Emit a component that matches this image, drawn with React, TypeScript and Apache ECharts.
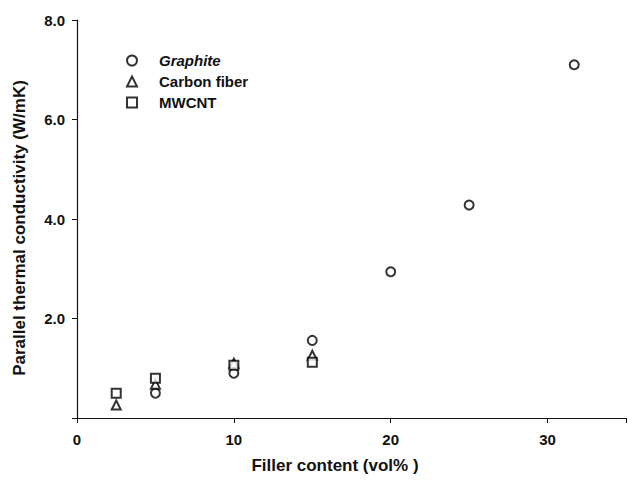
import React, { useEffect, useRef } from "react";
import * as echarts from "echarts";

const graphiteX = [5, 10, 15, 20, 25, 31.7];
const graphiteY = [0.5, 0.9, 1.56, 2.94, 4.28, 7.1];
const carbonX = [2.5, 5, 10, 15];
const carbonY = [0.26, 0.68, 1.1, 1.26];
const mwcntX = [2.5, 5, 10, 15];
const mwcntY = [0.5, 0.8, 1.06, 1.12];
const seriesNames = ["Graphite", "Carbon fiber", "MWCNT"];
const xTitle = "Filler content (vol% )";
const yTitle = "Parallel thermal conductivity (W/mK)";

const FONT = "'Liberation Sans', Arial, sans-serif";

function pairs(xs: number[], ys: number[]) {
  return xs.map((x, i) => [x, ys[i]]);
}

export default function App() {
  const ref = useRef<HTMLDivElement>(null);
  useEffect(() => {
    if (!ref.current) return;
    const chart = echarts.init(ref.current, null, { renderer: "svg" });
    const markerStyle = { color: "#000", borderColor: "#000", borderWidth: 1.3 };
    const labelStyle = { fontFamily: FONT, fontSize: 15, fontWeight: "bold", color: "#111" };
    chart.setOption({
      animation: false,
      backgroundColor: "#fff",
      textStyle: { fontFamily: FONT },
      grid: { left: 77, top: 20, right: 1, bottom: 65, containLabel: false },
      legend: {
        orient: "vertical",
        left: 121,
        top: 48,
        itemWidth: 10,
        itemHeight: 10,
        itemGap: 6,
        data: seriesNames,
        textStyle: {
          ...labelStyle,
          rich: {
            s: { width: 17 },
            i: { ...labelStyle, fontStyle: "italic", lineHeight: 15 },
            b: { ...labelStyle, lineHeight: 15 },
          },
        },
        formatter: (name: string) =>
          name === "Graphite" ? `{s|}{i|${name}}` : `{s|}{b|${name}}`,
      },
      graphic: [
        {
          type: "text",
          x: 335,
          y: 465,
          style: { text: xTitle, fontFamily: FONT, fontSize: 17, fontWeight: "bold", fill: "#111", align: "center", verticalAlign: "middle" },
        },
        {
          type: "text",
          x: 19,
          y: 228,
          rotation: Math.PI / 2,
          style: { text: yTitle, fontFamily: FONT, fontSize: 17, fontWeight: "bold", fill: "#111", align: "center", verticalAlign: "middle" },
        },
      ],
      xAxis: {
        type: "value",
        min: 0,
        max: 35,
        interval: 10,
        axisLine: { lineStyle: { color: "#111", width: 1.2 } },
        axisTick: { show: true, length: 5, lineStyle: { color: "#111" } },
        axisLabel: {
          ...labelStyle,
          margin: 14,
          formatter: (v: number) => (v <= 30 ? String(v) : ""),
        },
        splitLine: { show: false },
      },
      yAxis: {
        type: "value",
        min: 0,
        max: 8,
        interval: 2,
        axisLine: { show: true, lineStyle: { color: "#111", width: 1.2 } },
        axisTick: { show: true, length: 5, lineStyle: { color: "#111" } },
        axisLabel: {
          ...labelStyle,
          margin: 12,
          formatter: (v: number) => (v === 0 ? "" : v.toFixed(1)),
        },
        splitLine: { show: false },
      },
      series: [
        { name: seriesNames[0], type: "scatter", symbol: "emptyCircle", symbolSize: 9, itemStyle: markerStyle, data: pairs(graphiteX, graphiteY) },
        { name: seriesNames[1], type: "scatter", symbol: "emptyTriangle", symbolSize: 9, itemStyle: markerStyle, data: pairs(carbonX, carbonY) },
        { name: seriesNames[2], type: "scatter", symbol: "emptyRect", symbolSize: 9, itemStyle: markerStyle, data: pairs(mwcntX, mwcntY) },
      ],
    });
    return () => chart.dispose();
  }, []);
  return <div ref={ref} style={{ width: 629, height: 483, position: "absolute", left: 0, top: 0 }} />;
}
